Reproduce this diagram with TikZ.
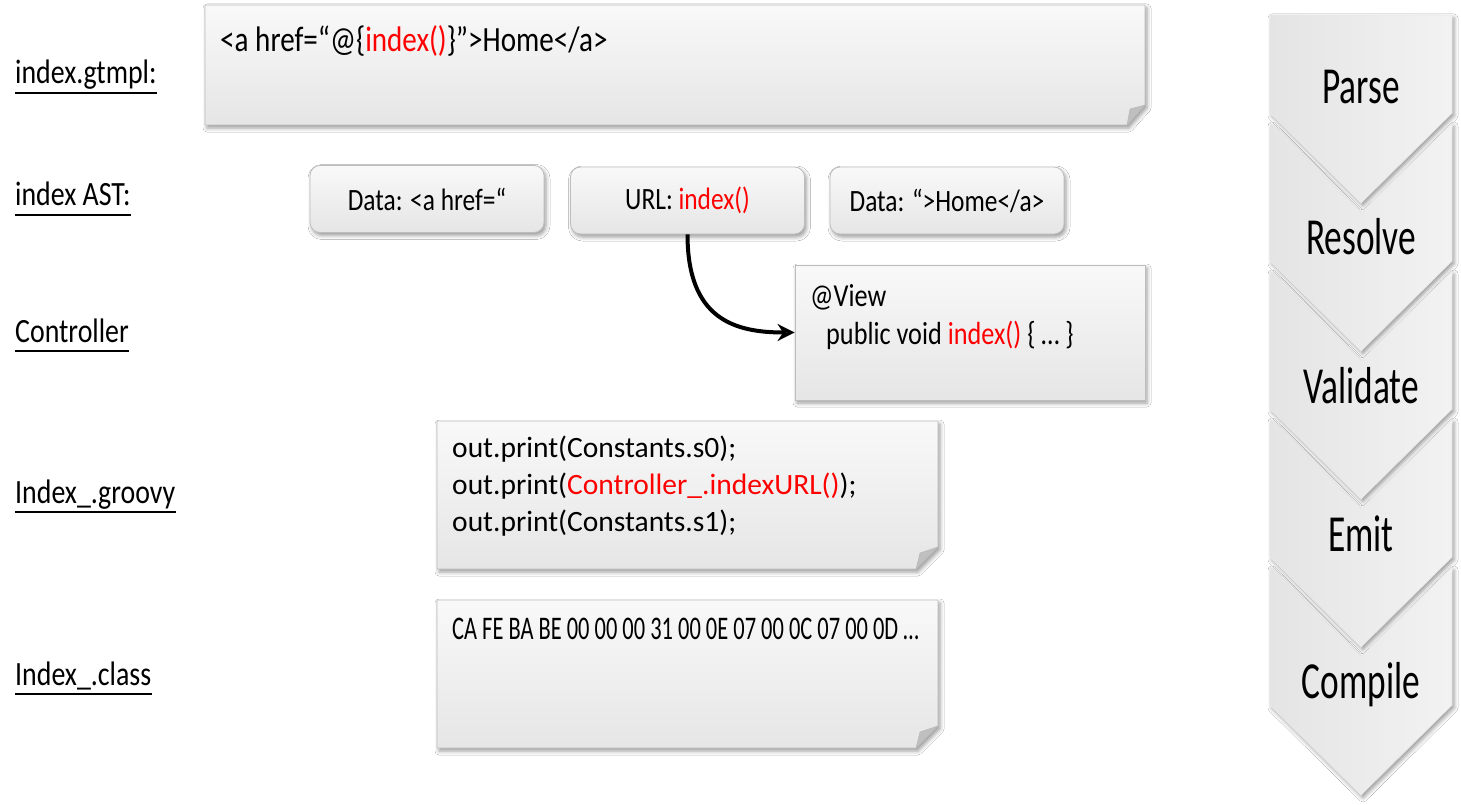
\documentclass[tikz,border=0pt]{standalone}
\usepackage{fontspec}
\setmainfont{Carlito}
\newfontfamily\cnd[FakeStretch=0.82]{Carlito}
\newfontfamily\cndn[FakeStretch=0.68]{Carlito}
\usetikzlibrary{shadows.blur,arrows.meta}
\definecolor{hl}{HTML}{FF0000}
\definecolor{edgec}{HTML}{BDBDBD}
\tikzset{
  lbl/.style={anchor=base west, inner sep=0pt, font=\cnd\fontsize{34}{40}\selectfont},
  uline/.style={line width=1.8pt},
  shad/.style={blur shadow={shadow xshift=2pt, shadow yshift=-3pt, shadow blur radius=4pt, shadow opacity=40}},
  paper/.style={draw=edgec, line width=0.8pt, top color=gray!5, bottom color=gray!20, shad},
  fold/.style={fill=gray!50, draw=gray!55, line width=0.5pt},
  astbox/.style={paper, rounded corners=10pt, minimum width=234pt, minimum height=67pt, inner sep=0pt, font=\cnd\fontsize{31}{36}\selectfont},
  ctrlbox/.style={paper, minimum width=350pt, minimum height=135pt, inner sep=0pt},
  btxt/.style={anchor=base west, inner sep=0pt, font=\cnd\fontsize{32}{38}\selectfont},
  gtxt/.style={anchor=base west, inner sep=0pt, font=\fontsize{29.5}{34}\selectfont},
  hextxt/.style={anchor=base west, inner sep=0pt, font=\cndn\fontsize{33}{38}\selectfont},
  chev/.style={draw=gray!18, line width=0.8pt, left color=gray!21, right color=gray!10, shad},
  chevtxt/.style={anchor=base, inner sep=0pt, font=\cndn\fontsize{52}{60}\selectfont},
  arr/.style={line width=4pt, -{Stealth[length=17pt,width=17pt]}}
}
\begin{document}
\begin{tikzpicture}[x=1pt,y=-1pt]
\fill[white] (0,0) rectangle (1461,805);
\useasboundingbox (0,0) rectangle (1461,805);

% left labels
\node[lbl] (l1) at (15,84) {index.gtmpl:};
\node[lbl] (l2) at (15,206) {index AST:};
\node[lbl] (l3) at (15,342) {Controller};
\node[lbl] (l4) at (15,503) {Index\_.groovy};
\node[lbl] (l5) at (15,685) {Index\_.class};
\foreach \n in {l1,l2,l3,l4,l5}
  \draw[uline] ([yshift=-9pt]\n.base west) -- ([yshift=-9pt]\n.base east);

% template box
\path[paper] (205,5) -- (1145,5) -- (1145,105) -- (1127,125) -- (205,125) -- cycle;
\path[fold] (1145,105) -- (1130,109) -- (1127,125) -- cycle;
\node[btxt, font=\cnd\fontsize{35.5}{40}\selectfont] (tpl) at (220,52)
  {<a href=“@\{\textcolor{hl}{index()}\}”>Home</a>};

% AST boxes
\node[astbox] (d1) at (427,199) {Data: <a href=“};
\node[astbox] (url) at (687.5,200.5) {URL: \textcolor{hl}{index()}};
\node[astbox] (d2) at (947,200.5) {Data: “>Home</a>};

% controller box
\node[ctrlbox] (ctrl) at (970,332.5) {};
\node[btxt] (v1) at (810,306) {@View};
\node[btxt] (v2) at (826,344) {public void \textcolor{hl}{index()} \{ … \}};

\draw[arr] (url.south) .. controls +(0,85) and +(-60,0) .. (ctrl.west);

% groovy box
\path[paper] (437,421) -- (938,421) -- (938,547) -- (916,569) -- (437,569) -- cycle;
\path[fold] (938,547) -- (920,553) -- (916,569) -- cycle;
\node[gtxt] (g1) at (452,457) {out.print(Constants.s0);};
\node[gtxt] (g2) at (452,494) {out.print(\textcolor{hl}{Controller\_.indexURL()});};
\node[gtxt] (g3) at (452,531) {out.print(Constants.s1);};

% class box
\path[paper] (437,600) -- (938,600) -- (938,726) -- (916,748) -- (437,748) -- cycle;
\path[fold] (938,726) -- (920,732) -- (916,748) -- cycle;
\node[hextxt] (hx) at (452,639) {CA FE BA BE 00 00 00 31 00 0E 07 00 0C 07 00 0D …};

% chevrons
\path[chev] (1270,15) -- (1452,15) -- (1452,113) -- (1361,203) -- (1270,113) -- cycle;
\path[chev] (1270,123) -- (1361,213) -- (1452,123) -- (1452,261) -- (1361,351) -- (1270,261) -- cycle;
\path[chev] (1270,271) -- (1361,361) -- (1452,271) -- (1452,409) -- (1361,499) -- (1270,409) -- cycle;
\path[chev] (1270,419) -- (1361,509) -- (1452,419) -- (1452,557) -- (1361,647) -- (1270,557) -- cycle;
\path[chev] (1270,567) -- (1361,657) -- (1452,567) -- (1452,705) -- (1361,795) -- (1270,705) -- cycle;
\node[chevtxt] (c1) at (1361,104) {Parse};
\node[chevtxt] (c2) at (1361,254) {Resolve};
\node[chevtxt] (c3) at (1361,403) {Validate};
\node[chevtxt] (c4) at (1361,551) {Emit};
\node[chevtxt] (c5) at (1361,698) {Compile};
\end{tikzpicture}
\end{document}
